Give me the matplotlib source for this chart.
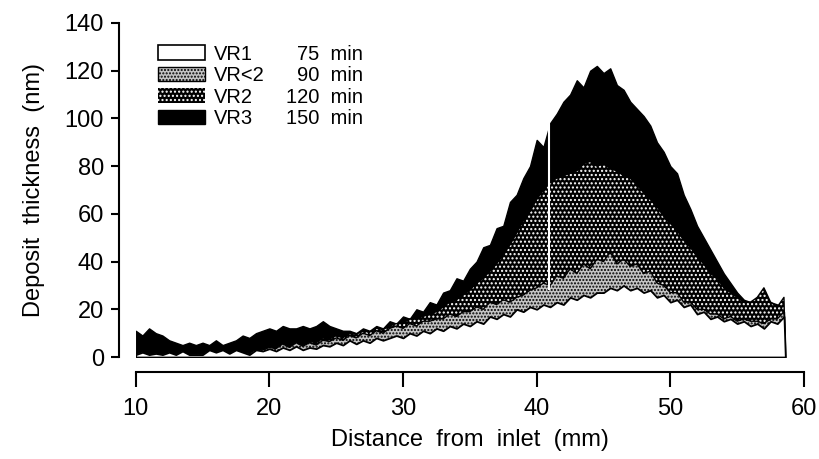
import numpy as np
import matplotlib
matplotlib.use("Agg")
import matplotlib.pyplot as plt
from matplotlib.patches import Patch

plt.rcParams['font.family'] = ['Liberation Sans', 'DejaVu Sans']
plt.rcParams['hatch.linewidth'] = 1.0

# distance from inlet (mm), sampled every 0.5 mm
distance = [10.0, 10.5, 11.0, 11.5, 12.0, 12.5, 13.0, 13.5, 14.0, 14.5,
            15.0, 15.5, 16.0, 16.5, 17.0, 17.5, 18.0, 18.5, 19.0, 19.5,
            20.0, 20.5, 21.0, 21.5, 22.0, 22.5, 23.0, 23.5, 24.0, 24.5,
            25.0, 25.5, 26.0, 26.5, 27.0, 27.5, 28.0, 28.5, 29.0, 29.5,
            30.0, 30.5, 31.0, 31.5, 32.0, 32.5, 33.0, 33.5, 34.0, 34.5,
            35.0, 35.5, 36.0, 36.5, 37.0, 37.5, 38.0, 38.5, 39.0, 39.5,
            40.0, 40.5, 41.0, 41.5, 42.0, 42.5, 43.0, 43.5, 44.0, 44.5,
            45.0, 45.5, 46.0, 46.5, 47.0, 47.5, 48.0, 48.5, 49.0, 49.5,
            50.0, 50.5, 51.0, 51.5, 52.0, 52.5, 53.0, 53.5, 54.0, 54.5,
            55.0, 55.5, 56.0, 56.5, 57.0, 57.5, 58.0, 58.5, 58.6]

# deposit thickness (nm)
vr1 = [1, 2, 1, 1.5, 1, 2, 1, 2.5, 1, 1,
       1, 3, 2, 3, 1.5, 3, 2, 1, 3, 2.5,
       3.5, 2.5, 4, 3, 4.5, 3, 4, 3.5, 5, 4.5,
       6, 5, 7, 5.5, 7, 6, 8, 7, 8, 9,
       8, 10, 9, 11, 10, 12, 11, 13, 12, 14,
       13, 15, 14, 17, 16, 18, 17, 20, 19, 21,
       20, 22, 21, 23, 22, 25, 24, 26, 25, 27,
       27, 29, 28, 30, 28, 29, 27, 28, 25, 26,
       23, 24, 21, 22, 18, 19, 16, 17, 15, 16,
       14, 15, 13, 14, 12, 15, 14, 17, 0]

vr_lt2 = [1.2, 2.2, 1.2, 1.7, 1.2, 2.2, 1.2, 2.7, 1.2, 1.2,
          1.2, 3.2, 2.2, 3.2, 1.7, 3.2, 2.2, 1.5, 3.2, 3,
          4, 3.5, 5.5, 4, 6, 4.5, 6, 5, 7, 6.5,
          8, 7, 9, 8, 10, 9, 11, 10, 12, 13,
          12, 14, 13, 15, 15, 16, 16, 18, 17, 19,
          19, 21, 20, 23, 22, 24, 23, 25, 26, 28,
          29, 31, 30, 34, 33, 37, 35, 39, 37, 41,
          40, 44, 39, 41, 38, 39, 35, 36, 31, 30,
          27, 27, 23, 23, 20, 20, 18, 18, 16, 17,
          15, 16, 15, 15, 14, 16, 16, 19, 0]

vr2 = [1.3, 2.3, 1.3, 1.8, 1.3, 2.3, 1.3, 2.8, 1.3, 1.3,
       1.3, 3.3, 2.3, 3.3, 1.8, 3.3, 2.3, 1.6, 3.3, 3.1,
       4.1, 3.6, 5.6, 4.1, 6.1, 4.6, 6.5, 6, 8, 7.5,
       9, 8, 10, 9.5, 11, 10.5, 12, 11.5, 13, 14,
       14, 16, 16, 17, 18, 19, 21, 23, 24, 26,
       28, 31, 33, 36, 39, 43, 47, 52, 57, 61,
       66, 70, 73, 75, 76, 77, 78, 81, 82, 80,
       81, 79, 78, 76, 75, 72, 69, 66, 63, 59,
       56, 53, 49, 46, 42, 39, 35, 33, 29, 27,
       25, 23, 23, 25, 29, 23, 21, 25, 0]

vr3 = [11, 9, 12, 10, 9, 7, 6, 5, 6, 5,
       6, 5, 7, 5, 6, 7, 9, 8, 10, 11,
       12, 11, 13, 12, 12, 13, 12, 13, 15, 13,
       12, 11, 11, 10, 12, 11, 13, 12, 15, 14,
       17, 16, 20, 19, 23, 22, 27, 28, 33, 32,
       37, 40, 46, 47, 54, 55, 65, 68, 75, 80,
       91, 88, 98, 102, 107, 110, 116, 113, 120, 122,
       119, 121, 114, 112, 107, 104, 101, 97, 90, 86,
       80, 77, 68, 62, 55, 50, 45, 40, 35, 31,
       27, 24, 23, 24, 25, 23, 22, 19, 0]

names = ['VR1', 'VR<2', 'VR2', 'VR3']
times = ['75', '90', '120', '150']

# white scan gap in the original trace
gap_x = 40.9
gap_lo = 28
gap_hi = 98

fig = plt.figure(figsize=(8.19, 4.59), dpi=100)
ax = fig.add_axes([0.1657, 0.2222, 0.816, 0.7277])

x = np.array(distance)
ax.fill_between(x, 0, vr3, facecolor='black', edgecolor='black', lw=1.0, zorder=1)
ax.fill_between(x, 0, vr2, facecolor='black', edgecolor='white', hatch='....', lw=0, zorder=2)
ax.plot(x, vr2, color='black', lw=1.0, zorder=2.5)
ax.fill_between(x, 0, vr_lt2, facecolor='#c4c4c4', edgecolor='black', hatch='.....', lw=0, zorder=3)
ax.plot(x, vr_lt2, color='black', lw=1.0, zorder=3.5)
ax.fill_between(x, 0, vr1, facecolor='white', edgecolor='black', lw=1.3, zorder=4)
ax.vlines(gap_x, gap_lo, gap_hi, color='white', lw=1.5, zorder=5)

ax.set_xlim(10, 60)
ax.set_ylim(0, 140)
ax.set_xticks([10, 20, 30, 40, 50, 60])
ax.set_yticks(range(0, 141, 20))
for s in ['top', 'right']:
    ax.spines[s].set_visible(False)
ax.spines['left'].set_position(('outward', 12))
ax.spines['bottom'].set_position(('outward', 10.8))
ax.spines['left'].set_bounds(0, 140)
ax.spines['bottom'].set_bounds(10, 60)
for s in ['left', 'bottom']:
    ax.spines[s].set_linewidth(1.5)
ax.tick_params(axis='y', direction='out', length=6, width=1.5, labelsize=17, pad=5)
ax.tick_params(axis='x', direction='out', length=11, width=1.5, labelsize=17, pad=8)
ax.set_xlabel('Distance  from  inlet  (mm)', fontsize=17, labelpad=6)
ax.set_ylabel('Deposit  thickness  (nm)', fontsize=17, labelpad=14)

handles = [
    Patch(facecolor='white', edgecolor='black', lw=1.2),
    Patch(facecolor='#c4c4c4', edgecolor='black', hatch='.....', lw=1.0),
    Patch(facecolor='black', edgecolor='white', hatch='....', lw=0),
    Patch(facecolor='black', edgecolor='black', lw=1.0),
]
leg = ax.legend(handles, names, loc='upper left', bbox_to_anchor=(0.034, 0.935),
                frameon=False, fontsize=14.5, handlelength=2.3, handleheight=0.75,
                labelspacing=0.12, handletextpad=0.45, borderaxespad=0, borderpad=0)
fig.canvas.draw()
for t, txt in zip(times, leg.get_texts()):
    bb = txt.get_window_extent().transformed(ax.transAxes.inverted())
    ax.text(0.34, (bb.y0 + bb.y1) / 2, f'{t}  min', fontsize=14.5,
            ha='right', va='center', transform=ax.transAxes)

fig.savefig('out.png', dpi=100)
